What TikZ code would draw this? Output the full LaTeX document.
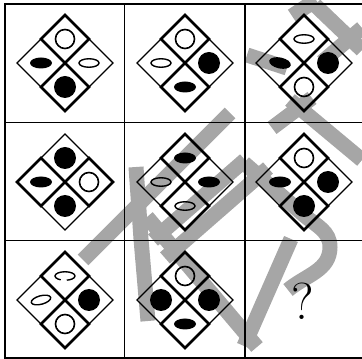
\documentclass[tikz,border=0pt]{standalone}
\usetikzlibrary{shapes.geometric}
\definecolor{wmark}{RGB}{166,166,166}
\tikzset{
  ocirc/.style={circle, draw, line width=1.6pt, minimum size=19pt, inner sep=0pt},
  fcirc/.style={circle, fill, minimum size=22pt, inner sep=0pt},
  oell/.style={ellipse, draw, line width=1.4pt, minimum width=20pt, minimum height=8.5pt, inner sep=0pt},
  fell/.style={ellipse, fill, minimum width=22pt, minimum height=11pt, inner sep=0pt},
  oellt/.style={oell, rotate=15},
  fellt/.style={fell, rotate=-12},
  brk/.style={oell, dash pattern=on 30.5pt off 6pt},
  thinl/.style={line width=1.1pt},
  boldl/.style={line width=2.5pt, line join=miter},
  wm/.style={wmark, line width=15pt},
}
\begin{document}
\begin{tikzpicture}[x=1pt,y=1pt]
\useasboundingbox (0,0) rectangle (362,359);
\clip (0,0) rectangle (362,359);

\draw[wm] (83,99) -- (230,246);
\draw[wm] (136,192) -- (141,120) -- (148,38);
\draw[wm] (147,142) -- (257,12);
\draw[wm] (165,101) -- (268,191);
\draw[wm] (153,119) -- (245,199);
\draw[wm] (244,196) -- (305,143) to[out=-40,in=90] (330,112) to[out=-90,in=40] (288,69);
\draw[wm] (244,13) -- (291,120);
\draw[wm] (247,304) -- (287,291);
\draw[wm] (272,231) -- (312,261);
\draw[wm] (290,259) -- (362,199);
\draw[wm] (292,343) -- (316,359);
\draw[wm] (315,354) -- (362,309);
\draw[wm] (322,297) -- (362,331);

\draw[line width=1.6pt] (5,1) rectangle (364.5,355);
\draw[line width=1.2pt] (124.5,1) -- (124.5,355);
\draw[line width=1.2pt] (245,1) -- (245,355);
\draw[line width=1.2pt] (5,236.5) -- (364.5,236.5);
\draw[line width=1.2pt] (5,118.5) -- (364.5,118.5);

\foreach \x/\y/\t/\r/\b/\l/\k [count=\n] in {
  65/296/ocirc/oell/fcirc/fell/0, 185/296/ocirc/fcirc/fell/oell/0, 304/296/oell/fcirc/ocirc/fellt/0,
  65/177/fcirc/ocirc/fcirc/fell/90, 185/177/fell/fell/oell/oell/0, 304/177/ocirc/fcirc/fcirc/fell/0,
  65/59/brk/fcirc/ocirc/oellt/0, 185/59/ocirc/fcirc/fell/fcirc/0}{
  \draw[thinl] (\x-48,\y) -- (\x,\y+48) -- (\x+48,\y) -- (\x,\y-48) -- cycle;
  \draw[thinl] (\x-24,\y+24) -- (\x+24,\y-24) (\x-24,\y-24) -- (\x+24,\y+24);
  \begin{scope}[rotate around={\k:(\x,\y)}]
    \draw[boldl] (\x,\y) -- (\x-24,\y+24) -- (\x,\y+48) -- (\x+24,\y+24) -- cycle;
    \draw[boldl] (\x,\y) -- (\x-24,\y-24) -- (\x,\y-48) -- (\x+24,\y-24) -- cycle;
  \end{scope}
  \node[\t] (t\n) at (\x,\y+24) {};
  \node[\r] (r\n) at (\x+24,\y) {};
  \node[\b] (b\n) at (\x,\y-24) {};
  \node[\l] (l\n) at (\x-24,\y) {};
}

\node[font=\fontsize{52}{52}\selectfont] (qm) at (303,58) {?};
\end{tikzpicture}
\end{document}
